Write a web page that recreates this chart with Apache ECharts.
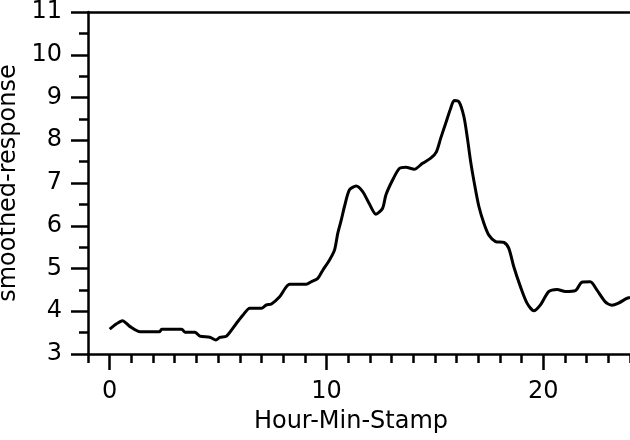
<!DOCTYPE html>
<html>
<head>
<meta charset="utf-8">
<script src="https://cdn.jsdelivr.net/npm/echarts@6/dist/echarts.min.js"></script>
<style>
  html, body { margin: 0; padding: 0; background: #fff; }
  #chart { width: 630px; height: 440px; }
</style>
</head>
<body>
<div id="chart"></div>
<script>
// Hour of day (time stamp) and the smoothed response at that hour
const hours = [
  0.0, 0.3, 0.59, 0.94, 1.4, 2.3, 2.4, 3.32, 3.47, 3.93,
  4.16, 4.62, 4.9, 5.08, 5.39, 5.85, 6.15, 6.46, 7.0, 7.23,
  7.46, 7.84, 8.3, 9.07, 9.3, 9.6, 9.83, 10.14, 10.37, 10.52,
  10.68, 10.83, 11.06, 11.37, 11.67, 11.97, 12.28, 12.59, 12.74, 13.05,
  13.36, 13.66, 14.05, 14.43, 14.81, 15.07, 15.27, 15.5, 15.73, 15.89,
  16.11, 16.34, 16.5, 16.65, 16.85, 17.03, 17.26, 17.49, 17.8, 18.18,
  18.41, 18.64, 18.95, 19.25, 19.56, 19.87, 20.25, 20.64, 21.02, 21.48,
  21.78, 22.17, 22.47, 22.86, 23.16, 23.47, 23.85, 24.0
];
const response = [
  3.58, 3.7, 3.78, 3.64, 3.52, 3.52, 3.58, 3.58, 3.51, 3.51,
  3.42, 3.39, 3.33, 3.39, 3.42, 3.72, 3.91, 4.07, 4.07, 4.15,
  4.17, 4.34, 4.63, 4.63, 4.69, 4.77, 4.96, 5.2, 5.43, 5.82,
  6.13, 6.45, 6.84, 6.93, 6.8, 6.52, 6.27, 6.41, 6.72, 7.07,
  7.34, 7.37, 7.32, 7.46, 7.58, 7.73, 8.05, 8.4, 8.75, 8.93,
  8.9, 8.55, 8.05, 7.5, 6.91, 6.45, 6.06, 5.78, 5.63, 5.61,
  5.47, 5.04, 4.57, 4.19, 4.01, 4.15, 4.46, 4.51, 4.46, 4.48,
  4.68, 4.69, 4.5, 4.22, 4.14, 4.19, 4.3, 4.32
];
// Labelled (long) ticks on the hour axis
const hourMajorTicks = [0, 10, 20];

const FONT = 'DejaVu Sans';
const INK = '#000';

const points = hours.map((h, i) => [h, response[i]]);

const chart = echarts.init(document.getElementById('chart'), null, { renderer: 'canvas' });

const hourRange = { min: -1, max: 24 };

chart.setOption({
  backgroundColor: '#fff',
  animation: false,
  grid: { left: 88, right: 0, top: 12, bottom: 86, outerBoundsMode: 'none' },
  xAxis: [
    {
      // main hour axis: line, long ticks and labels
      type: 'value', position: 'bottom', ...hourRange,
      name: 'Hour-Min-Stamp', nameLocation: 'middle', nameGap: 56,
      nameTextStyle: { fontFamily: FONT, fontSize: 24, color: INK, padding: [0, 16, 0, 0] },
      axisLine: { show: true, onZero: false, lineStyle: { color: INK, width: 2.5 } },
      axisTick: { show: true, customValues: hourMajorTicks, length: 16, lineStyle: { color: INK, width: 2.5 } },
      axisLabel: { customValues: hourMajorTicks, fontFamily: FONT, fontSize: 24, color: INK, margin: 26 },
      splitLine: { show: false }
    },
    {
      // short ticks every hour
      type: 'value', position: 'bottom', ...hourRange, interval: 1,
      axisLine: { show: false, onZero: false },
      axisTick: { show: true, length: 9, lineStyle: { color: INK, width: 2.5 } },
      axisLabel: { show: false },
      splitLine: { show: false }
    },
    {
      // frame line along the top
      type: 'value', position: 'top', ...hourRange,
      axisLine: { show: true, onZero: false, lineStyle: { color: INK, width: 2.5 } },
      axisTick: { show: false },
      axisLabel: { show: false },
      splitLine: { show: false }
    }
  ],
  yAxis: {
    type: 'value', position: 'left', min: 3, max: 11, interval: 1,
    name: 'smoothed-response', nameLocation: 'middle', nameGap: 55,
    nameTextStyle: { fontFamily: FONT, fontSize: 24, color: INK },
    axisLine: { show: true, onZero: false, lineStyle: { color: INK, width: 2.5 } },
    axisTick: { show: true, length: 17, lineStyle: { color: INK, width: 2.5 } },
    minorTick: { show: true, splitNumber: 2, length: 9, lineStyle: { color: INK, width: 2.5 } },
    axisLabel: { fontFamily: FONT, fontSize: 24, color: INK, margin: 26 },
    splitLine: { show: false },
    minorSplitLine: { show: false }
  },
  series: [{
    type: 'line',
    xAxisIndex: 0,
    data: points,
    showSymbol: false,
    smooth: 0.25,
    lineStyle: { color: INK, width: 3 }
  }]
});
</script>
</body>
</html>
